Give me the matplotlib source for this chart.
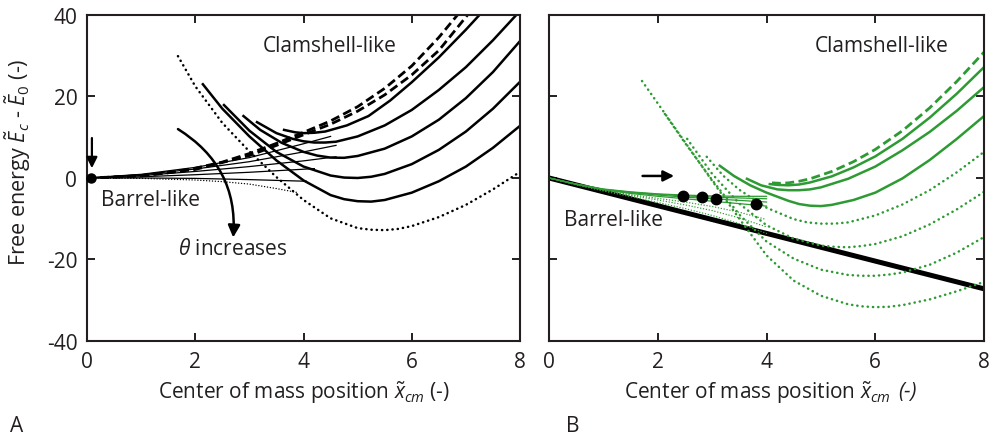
import matplotlib
matplotlib.use("Agg")
import matplotlib.pyplot as plt
from matplotlib.patches import FancyArrowPatch

plt.rcParams['font.family'] = ['Open Sans', 'DejaVu Sans']
plt.rcParams['mathtext.fontset'] = 'custom'
plt.rcParams['mathtext.rm'] = 'Open Sans'
plt.rcParams['mathtext.it'] = 'Open Sans:italic'
plt.rcParams['mathtext.bf'] = 'Open Sans:bold'
plt.rcParams['axes.unicode_minus'] = False

INK = '#231f20'
GREEN = '#2e9a33'

# ---------------- Panel A: free-energy branches ----------------
# dotted (largest angle)
a_dot_bar_x = [0, 1, 2, 2.5, 3, 3.5, 3.9]
a_dot_bar_y = [0, -0.1, -0.5, -0.9, -1.5, -2.6, -3.6]
a_dot_cl_x = [1.68, 2.0, 2.5, 3.0, 3.5, 4.0, 4.5, 5.0, 5.25, 5.5, 5.75, 6.0, 6.5, 7.0, 7.5, 8.0]
a_dot_cl_y = [29.9, 22.5, 13.5, 6.5, 0.2, -5.4, -9.9, -12.3, -12.7, -12.8, -12.5, -11.8, -9.6, -6.6, -2.8, 1.5]

# solid curves, barrel branch (thin) and clamshell branch (thick)
a_s1_bar_x = [0, 1, 2, 3, 4.05]
a_s1_bar_y = [0, 0, -0.1, -0.4, -0.8]
a_s1_cl_x = [2.14, 2.5, 3.0, 3.5, 4.0, 4.5, 4.75, 5.0, 5.25, 5.5, 6.0, 6.5, 7.0, 7.5, 8.0]
a_s1_cl_y = [23.0, 17.0, 10.2, 4.3, -0.6, -4.2, -5.2, -5.7, -5.8, -5.4, -3.6, -0.8, 2.8, 7.4, 12.8]

a_s2_bar_x = [0, 1, 2, 3, 4.2]
a_s2_bar_y = [0, 0.3, 0.8, 1.4, 2.3]
a_s2_cl_x = [2.53, 3.0, 3.5, 4.0, 4.5, 4.75, 5.0, 5.25, 5.5, 6.0, 6.5, 7.0, 7.5, 8.0]
a_s2_cl_y = [17.9, 11.6, 6.4, 2.8, 0.6, 0.1, 0.0, 0.3, 1.0, 3.4, 6.9, 11.4, 17.0, 23.6]

a_s3_bar_x = [0, 1, 2, 3, 4, 4.6]
a_s3_bar_y = [0, 0.6, 1.6, 2.8, 4.2, 5.2]
a_s3_cl_x = [2.89, 3.2, 3.6, 4.0, 4.25, 4.5, 4.75, 5.0, 5.5, 6.0, 6.5, 7.0, 7.5, 8.0]
a_s3_cl_y = [15.2, 11.8, 8.6, 6.4, 5.5, 5.0, 4.95, 5.4, 7.2, 10.2, 14.3, 19.6, 26.0, 33.6]

a_s4_bar_x = [0, 1, 2, 3, 4, 4.6]
a_s4_bar_y = [0, 0.8, 2.2, 4.0, 6.4, 8.0]
a_s4_cl_x = [3.14, 3.5, 3.8, 4.0, 4.2, 4.4, 4.6, 5.0, 5.5, 6.0, 6.5, 7.0, 7.5, 8.0]
a_s4_cl_y = [13.7, 11.0, 9.6, 9.0, 8.7, 8.7, 8.9, 10.2, 12.9, 16.7, 21.6, 27.2, 33.8, 41.0]

a_s5_bar_x = [0, 1, 2, 3, 4, 4.5]
a_s5_bar_y = [0, 0.9, 2.6, 5.0, 8.4, 10.2]
a_s5_cl_x = [3.64, 3.85, 4.0, 4.2, 4.4, 4.8, 5.2, 5.6, 6.0, 6.5, 7.0, 7.5]
a_s5_cl_y = [11.8, 11.2, 11.0, 11.1, 11.4, 12.9, 15.2, 19.0, 23.5, 29.6, 36.4, 43.6]

# dashed (smallest angles, no barrier)
a_d1_x = [0, 0.5, 1, 1.5, 2, 2.5, 3, 3.5, 4, 4.5, 5, 5.5, 6, 6.5, 7.0]
a_d1_y = [0, 0.2, 0.6, 1.3, 2.4, 3.9, 6.0, 8.5, 11.2, 14.0, 17.5, 22.0, 27.5, 34.5, 42.5]
a_d2_x = [0, 1, 2, 3, 3.5, 4, 4.5, 5, 5.5, 6, 6.5, 7.0, 7.5]
a_d2_y = [0, 0.5, 2.1, 5.5, 8.0, 10.6, 13.2, 16.4, 20.4, 25.3, 31.3, 39.5, 48.0]

# ---------------- Panel B ----------------
b_black_x = [0, 1, 2, 3, 4, 5, 6, 7, 8]
b_black_y = [0, -3.4, -6.8, -10.2, -13.6, -17.0, -20.4, -23.8, -27.2]

b_bar_x = [0, 0.5, 1, 1.5, 2, 2.5, 3, 3.5, 4.0]
b_bar_dash_y = [0, -1.5, -2.7, -3.4, -3.9, -4.2, -4.4, -4.5, -4.5]
b_bar_s1_y = [0, -1.5, -2.8, -3.5, -4.0, -4.4, -4.7, -4.9, -5.1]
b_bar_s2_y = [0, -1.5, -2.8, -3.6, -4.2, -4.7, -5.1, -5.5, -5.9]
b_bar_s3_y = [0, -1.6, -2.9, -3.8, -4.5, -5.1, -5.7, -6.3, -6.9]
b_bar_d1_y = [0, -1.6, -3.0, -4.1, -5.0, -5.9, -7.0, -8.4, -10.2]
b_bar_d2_y = [0, -1.6, -3.1, -4.3, -5.4, -6.6, -8.0, -9.8, -12.0]
b_bar_d3_y = [0, -1.7, -3.2, -4.6, -6.0, -7.5, -9.2, -11.2, -13.6]
b_bar_d4_y = [0, -1.6, -3.2, -4.9, -6.6, -8.3, -10.0, -11.7, -13.4]

b_d4_x = [1.71, 2.0, 2.5, 3.0, 3.5, 4.0, 4.5, 5.0, 5.5, 5.75, 6.0, 6.25, 6.5, 7.0, 7.5, 8.0]
b_d4_y = [23.8, 18.3, 8.8, -0.7, -10.0, -19.0, -25.2, -28.9, -31.0, -31.5, -31.7, -31.6, -31.2, -29.8, -27.8, -25.5]
b_d3_x = [2.13, 2.5, 3.0, 3.5, 4.0, 4.5, 5.0, 5.5, 5.75, 6.0, 6.25, 6.5, 7.0, 7.5, 8.0]
b_d3_y = [15.7, 8.6, -0.5, -9.0, -15.6, -19.8, -22.5, -23.8, -24.0, -24.0, -23.7, -23.2, -21.3, -18.3, -14.5]
b_d2_x = [2.54, 3.0, 3.5, 4.0, 4.5, 5.0, 5.25, 5.5, 5.75, 6.0, 6.5, 7.0, 7.5, 8.0]
b_d2_y = [9.6, 1.0, -6.3, -11.6, -14.9, -16.6, -16.9, -17.0, -16.7, -16.2, -14.3, -11.4, -7.7, -3.4]
b_d1_x = [2.9, 3.2, 3.5, 4.0, 4.5, 4.75, 5.0, 5.25, 5.5, 6.0, 6.5, 7.0, 7.5, 8.0]
b_d1_y = [5.2, 0.6, -2.9, -7.3, -10.1, -10.9, -11.2, -11.2, -10.9, -9.2, -6.5, -3.0, 1.4, 6.4]
b_s3_x = [3.14, 3.4, 3.7, 4.0, 4.4, 4.6, 4.8, 5.0, 5.2, 5.6, 6.0, 6.5, 7.0, 7.5, 8.0]
b_s3_y = [3.0, 0.5, -1.8, -3.6, -5.6, -6.4, -6.8, -6.9, -6.6, -5.4, -3.6, -0.1, 4.4, 9.6, 15.2]
b_s2_x = [3.64, 3.9, 4.2, 4.4, 4.6, 4.8, 5.0, 5.5, 6.0, 6.5, 7.0, 7.5, 8.0]
b_s2_y = [-0.2, -1.8, -2.8, -3.0, -3.0, -2.8, -2.3, -0.2, 2.8, 6.8, 11.3, 16.5, 22.3]
b_s1_x = [4.06, 4.2, 4.4, 4.6, 4.8, 5.2, 5.6, 6.0, 6.5, 7.0, 7.5, 8.0]
b_s1_y = [-1.5, -1.7, -1.8, -1.6, -1.1, 0.4, 2.6, 5.3, 9.6, 14.8, 20.7, 27.2]
b_dash_x = [4.1, 4.25, 4.4, 4.6, 4.8, 5.2, 5.6, 6.0, 6.5, 7.0, 7.5, 8.0]
b_dash_y = [-1.2, -1.3, -1.2, -0.8, -0.2, 1.6, 4.0, 7.0, 11.6, 17.2, 23.7, 30.9]

b_dots_x = [2.46, 2.81, 3.07, 3.80]
b_dots_y = [-4.4, -4.6, -5.2, -6.4]

x_ticks = [0, 2, 4, 6, 8]
y_ticks = [-40, -20, 0, 20, 40]

DOT = (0, (0.1, 2.0))
DASH = (0, (3.2, 1.6))

fig = plt.figure(figsize=(9.97, 4.39), dpi=100)
axA = fig.add_axes([0.0873, 0.221, 0.4343, 0.7426])
axB = fig.add_axes([0.5507, 0.221, 0.4363, 0.7426])

for ax in (axA, axB):
    ax.set_xlim(0, 8)
    ax.set_ylim(-40, 40)
    ax.set_xticks(x_ticks)
    ax.set_yticks(y_ticks)
    ax.tick_params(direction='in', length=6, width=1.4, top=True, right=True,
                   labelsize=15, pad=7, colors=INK)
    for s in ax.spines.values():
        s.set_linewidth(1.5)
        s.set_color(INK)
axB.set_yticklabels([])

# ---- panel A curves ----
thin = dict(color='black', lw=0.9)
thick = dict(color='black', lw=1.8, solid_joinstyle='round')
axA.plot(a_dot_bar_x, a_dot_bar_y, color='black', lw=1.0, ls=DOT, dash_capstyle='round')
axA.plot(a_dot_cl_x, a_dot_cl_y, color='black', lw=1.8, ls=DOT, dash_capstyle='round')
for bx, by, cx, cy in [(a_s1_bar_x, a_s1_bar_y, a_s1_cl_x, a_s1_cl_y),
                       (a_s2_bar_x, a_s2_bar_y, a_s2_cl_x, a_s2_cl_y),
                       (a_s3_bar_x, a_s3_bar_y, a_s3_cl_x, a_s3_cl_y),
                       (a_s4_bar_x, a_s4_bar_y, a_s4_cl_x, a_s4_cl_y),
                       (a_s5_bar_x, a_s5_bar_y, a_s5_cl_x, a_s5_cl_y)]:
    axA.plot(bx, by, **thin)
    axA.plot(cx, cy, **thick)
axA.plot(a_d1_x, a_d1_y, color='black', lw=2.0, ls=DASH)
axA.plot(a_d2_x, a_d2_y, color='black', lw=2.0, ls=DASH)

axA.plot([0.07], [0], 'o', color='black', ms=6.5, clip_on=False, zorder=5)
axA.annotate('', xy=(0.09, 2.4), xytext=(0.09, 9.8),
             arrowprops=dict(arrowstyle='-|>', color='black', lw=1.6,
                             mutation_scale=16, shrinkA=0, shrinkB=0))
curved = FancyArrowPatch((1.68, 12.0), (2.7, -14.6), connectionstyle='arc3,rad=-0.3',
                         arrowstyle='-|>', mutation_scale=18, lw=1.8, color='black',
                         shrinkA=0, shrinkB=0)
axA.add_patch(curved)

axA.text(4.49, 32.4, 'Clamshell-like', fontsize=15, color=INK, ha='center', va='center')
axA.text(1.18, -5.2, 'Barrel-like', fontsize=15, color=INK, ha='center', va='center')
axA.text(2.7, -17.4, r'$\theta$ increases', fontsize=15, color=INK, ha='center', va='center')

axA.set_xlabel(r'Center of mass position $\tilde{x}_{cm}$ (-)', fontsize=15, color=INK)
axA.set_ylabel(r'Free energy $\tilde{E}_c$ - $\tilde{E}_0$ (-)', fontsize=15.5, color=INK)
axA.xaxis.set_label_coords(0.5, -0.115)
axA.yaxis.set_label_coords(-0.125, 0.55)

# ---- panel B curves ----
axB.plot(b_bar_x, b_bar_d4_y, color=GREEN, lw=1.0, ls=DOT, dash_capstyle='round')
axB.plot(b_black_x, b_black_y, color='black', lw=3.6, solid_capstyle='round')
for by in (b_bar_d1_y, b_bar_d2_y, b_bar_d3_y):
    axB.plot(b_bar_x, by, color=GREEN, lw=1.0, ls=DOT, dash_capstyle='round')
for by in (b_bar_dash_y, b_bar_s1_y, b_bar_s2_y, b_bar_s3_y):
    axB.plot(b_bar_x, by, color=GREEN, lw=0.9)
for cx, cy in [(b_d4_x, b_d4_y), (b_d3_x, b_d3_y), (b_d2_x, b_d2_y), (b_d1_x, b_d1_y)]:
    axB.plot(cx, cy, color=GREEN, lw=1.8, ls=DOT, dash_capstyle='round')
for cx, cy in [(b_s3_x, b_s3_y), (b_s2_x, b_s2_y), (b_s1_x, b_s1_y)]:
    axB.plot(cx, cy, color=GREEN, lw=1.8, solid_joinstyle='round')
axB.plot(b_dash_x, b_dash_y, color=GREEN, lw=2.0, ls=DASH)

axB.plot(b_dots_x, b_dots_y, 'o', color='black', ms=7.5, zorder=6)
axB.annotate('', xy=(2.3, 0.5), xytext=(1.72, 0.5),
             arrowprops=dict(arrowstyle='-|>', color='black', lw=1.8,
                             mutation_scale=16, shrinkA=0, shrinkB=0))

axB.text(6.12, 32.4, 'Clamshell-like', fontsize=15, color=INK, ha='center', va='center')
axB.text(1.19, -10.3, 'Barrel-like', fontsize=15, color=INK, ha='center', va='center')
xlabB = axB.set_xlabel(r'Center of mass position $\tilde{x}_{cm}$', fontsize=15, color=INK)
axB.xaxis.set_label_coords(0.48, -0.115)
axB.annotate('(-)', xy=(1, 0.5), xycoords=xlabB, xytext=(5, 0), textcoords='offset points',
             ha='left', va='center', fontsize=15, style='italic', color=INK,
             annotation_clip=False)

fig.text(0.010, 0.016, 'A', fontsize=15, color=INK)
fig.text(0.568, 0.016, 'B', fontsize=15, color=INK)

fig.savefig('out.png', dpi=100)
